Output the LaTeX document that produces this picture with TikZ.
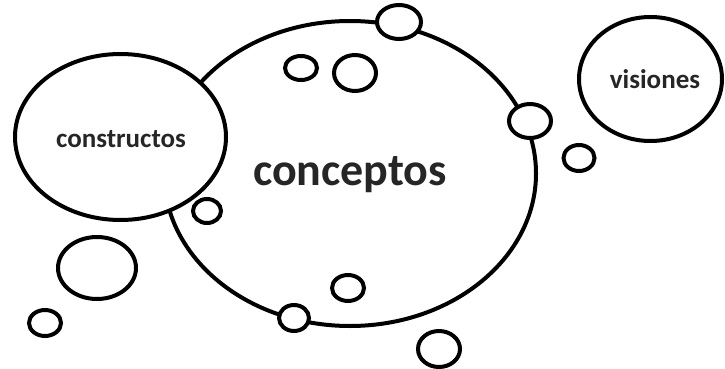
\documentclass[tikz,border=0pt]{standalone}
\usepackage{fontspec}
\setmainfont{Carlito}
\usetikzlibrary{shapes.geometric}

\begin{document}
\begin{tikzpicture}[x=1pt,y=-1pt,
    bubble/.style={ellipse,draw=black,fill=white,line width=4pt,inner sep=0pt},
    bubbletext/.style={font=\bfseries,text=black!85}]
  \useasboundingbox (0,0) rectangle (725,369);
  % main bubble
  \node[bubble,minimum width=372,minimum height=305] (conceptos) at (350,173.5) {};
  \node[bubbletext,font=\fontsize{46}{50}\selectfont\bfseries] (conceptostext) at (350,175) {conceptos};
  % side bubbles
  \node[bubble,minimum width=211,minimum height=166] (constructos) at (120.5,137) {};
  \node[bubbletext,font=\fontsize{27}{30}\selectfont\bfseries] (constructostext) at (121,139) {constructos};
  \node[bubble,minimum width=143,minimum height=124] (visiones) at (650.5,79) {};
  \node[bubbletext,font=\fontsize{27}{30}\selectfont\bfseries] (visionestext) at (655,79) {visiones};
  % small bubbles
  \node[bubble,minimum width=44,minimum height=34] (top) at (399,22) {};
  \node[bubble,minimum width=32,minimum height=24] (inA) at (301,68) {};
  \node[bubble,minimum width=42,minimum height=36] (inB) at (355,73) {};
  \node[bubble,minimum width=42,minimum height=34] (right) at (530,121) {};
  \node[bubble,minimum width=31,minimum height=26] (outR) at (579,158) {};
  \node[bubble,minimum width=28,minimum height=24] (left) at (207,211) {};
  \node[bubble,minimum width=78,minimum height=62] (outL) at (97,268) {};
  \node[bubble,minimum width=32,minimum height=26] (outLL) at (45,323) {};
  \node[bubble,minimum width=32,minimum height=26] (inC) at (348,288) {};
  \node[bubble,minimum width=30,minimum height=26] (bottom) at (294,318) {};
  \node[bubble,minimum width=42,minimum height=36] (outB) at (439,349) {};
\end{tikzpicture}
\end{document}
